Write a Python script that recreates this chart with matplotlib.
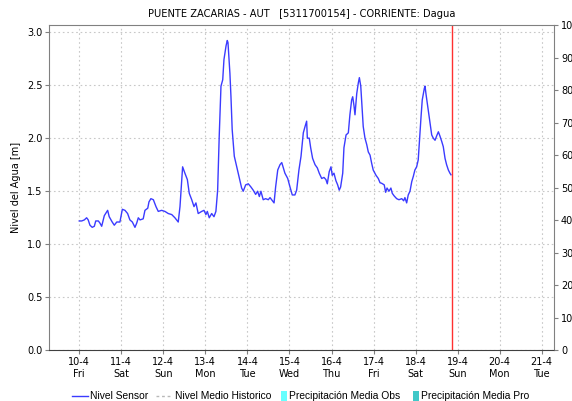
import matplotlib
matplotlib.use("Agg")
import matplotlib.pyplot as plt
from matplotlib.lines import Line2D
from matplotlib.patches import Rectangle

# hours since 10-4 00:00
hours = [0.0, 1.4, 2.9, 4.2, 5.1, 6.1, 7.4, 8.6, 9.4, 10.9, 11.8, 12.8, 14.3, 16.2, 17.1,
         18.1, 18.8, 20.0, 21.4, 23.2, 24.6, 26.1, 27.6, 28.9, 30.3, 31.8, 32.8, 33.7,
         34.7, 36.5, 37.5, 39.1, 39.8, 40.9, 42.3, 43.8, 45.1, 47.0, 48.9, 50.8, 52.8,
         54.6, 56.5, 57.5, 59.0, 60.3, 61.7, 62.8, 64.2, 65.5, 66.6, 67.9, 69.9, 71.2,
         72.3, 73.1, 74.2, 75.6, 76.9, 78.0, 79.0, 79.9, 80.9, 81.9, 82.6, 83.8, 84.5,
         84.9, 86.0, 86.6, 87.3, 88.5, 89.9, 91.2, 92.7, 93.6, 95.0, 96.5, 98.0, 99.3,
         100.7, 101.8, 102.8, 103.7, 105.0, 106.4, 107.9, 108.9, 109.8, 111.2, 112.1,
         113.3, 114.6, 115.6, 116.5, 117.4, 119.0, 120.3, 121.6, 123.1, 124.1, 125.4,
         126.6, 127.9, 128.9, 129.8, 130.2, 131.3, 132.1, 133.2, 134.6, 135.9, 137.0,
         138.4, 139.7, 140.8, 141.6, 142.7, 143.7, 144.4, 145.4, 146.5, 147.5, 148.4,
         149.2, 150.4, 151.1, 152.3, 153.6, 154.5, 155.5, 156.1, 156.8, 157.4, 158.4,
         159.3, 159.9, 160.7, 161.4, 162.1, 163.1, 164.1, 165.0, 166.0, 166.9, 167.8,
         169.4, 170.7, 171.7, 172.6, 174.1, 174.9, 175.7, 176.8, 177.9, 178.7, 179.8,
         181.2, 182.5, 184.1, 185.2, 185.9, 186.9, 187.8, 188.8, 189.8, 190.7, 191.6,
         192.6, 193.5, 194.1, 195.1, 195.8, 197.0, 197.4, 197.9, 198.9, 199.6, 200.4,
         201.2, 202.1, 203.1, 204.0, 205.0, 205.9, 206.9, 207.8, 208.8, 209.7, 210.7,
         211.6, 212.2]
nivel = [1.22, 1.22, 1.23, 1.25, 1.23, 1.18, 1.16, 1.17, 1.22, 1.22, 1.20, 1.17, 1.27,
         1.32, 1.26, 1.23, 1.21, 1.18, 1.21, 1.21, 1.33, 1.32, 1.29, 1.23, 1.21, 1.16,
         1.20, 1.25, 1.23, 1.24, 1.32, 1.34, 1.40, 1.43, 1.42, 1.355, 1.31, 1.32, 1.31,
         1.29, 1.28, 1.25, 1.21, 1.355, 1.73, 1.67, 1.61, 1.48, 1.42, 1.355, 1.39, 1.29,
         1.31, 1.32, 1.28, 1.31, 1.25, 1.29, 1.26, 1.31, 1.51, 2.02, 2.49, 2.55, 2.74,
         2.87, 2.92, 2.90, 2.61, 2.39, 2.08, 1.83, 1.73, 1.64, 1.53, 1.50, 1.56, 1.57,
         1.54, 1.51, 1.47, 1.50, 1.45, 1.50, 1.42, 1.43, 1.42, 1.44, 1.42, 1.39, 1.54,
         1.70, 1.75, 1.77, 1.72, 1.67, 1.62, 1.54, 1.465, 1.465, 1.51, 1.70, 1.83, 2.05,
         2.11, 2.16, 2.00, 2.00, 1.91, 1.81, 1.75, 1.72, 1.67, 1.62, 1.63, 1.61, 1.57,
         1.685, 1.73, 1.65, 1.67, 1.60, 1.56, 1.51, 1.54, 1.67, 1.91, 2.03, 2.05, 2.22,
         2.36, 2.39, 2.31, 2.22, 2.42, 2.52, 2.57, 2.49, 2.30, 2.11, 2.00, 1.94, 1.87,
         1.84, 1.765, 1.70, 1.65, 1.62, 1.58, 1.575, 1.56, 1.49, 1.53, 1.50, 1.53, 1.48,
         1.455, 1.43, 1.42, 1.43, 1.41, 1.44, 1.39, 1.465, 1.50, 1.59, 1.64, 1.70, 1.73,
         1.795, 1.95, 2.20, 2.36, 2.47, 2.49, 2.42, 2.30, 2.22, 2.125, 2.03, 2.00, 1.98,
         2.02, 2.06, 2.02, 1.97, 1.92, 1.81, 1.75, 1.70, 1.67, 1.655]

tick_hours = [0, 24, 48, 72, 96, 120, 144, 168, 192, 216, 240, 264]
tick_labels = ["10-4\nFri", "11-4\nSat", "12-4\nSun", "13-4\nMon", "14-4\nTue",
               "15-4\nWed", "16-4\nThu", "17-4\nFri", "18-4\nSat", "19-4\nSun",
               "20-4\nMon", "21-4\nTue"]
now_hour = 213.0
title = "PUENTE ZACARIAS - AUT   [5311700154] - CORRIENTE: Dagua"
legend_labels = ["Nivel Sensor", "Nivel Medio Historico", "Precipitación Media Obs",
                 "Precipitación Media Pro"]

W, H = 572, 401
fig = plt.figure(figsize=(W / 100, H / 100), dpi=100)
ax = fig.add_axes([0.0862, 0.126, 0.8823, 0.8117])
ax.plot(hours, nivel, color="#3b3bff", lw=1.0)
ax.axvline(now_hour, color="#ff3030", lw=1.0)

ax.set_xlim(-17.1, 271.0)
ax.set_ylim(0, 3.066)
ax.set_yticks([0, 0.5, 1.0, 1.5, 2.0, 2.5, 3.0])
ax.set_yticklabels(["0.0", "0.5", "1.0", "1.5", "2.0", "2.5", "3.0"])
ax.set_xticks(tick_hours)
ax.set_xticklabels(tick_labels)
ax.grid(True, color="#c8c8c8", linestyle=(0, (1.5, 2.5)), lw=0.8)
ax.tick_params(axis="both", labelsize=7, length=3, color="#808080", pad=2)
for s in ax.spines.values():
    s.set_color("#808080")
ax.spines["bottom"].set_linestyle((0, (1, 1)))
ax.spines["bottom"].set_color("#404040")
ax.set_ylabel("Nivel del Agua [m]", fontsize=7, labelpad=4)
ax.set_title(title, fontsize=7.1, pad=6)

ax2 = ax.twinx()
ax2.set_ylim(0, 100)
ax2.set_yticks(range(0, 101, 10))
ax2.tick_params(axis="y", labelsize=7, length=3, color="#808080", pad=2)
for s in ax2.spines.values():
    s.set_visible(False)

# legend drawn in figure pixel positions
def fx(px):
    return px / W

def fy(py):
    return 1 - py / H

ly = 396
lfont = dict(fontsize=7.4, family="Liberation Sans", va="center", ha="left")
fig.add_artist(Line2D([fx(72), fx(88)], [fy(ly), fy(ly)], color="#3b3bff", lw=1.0))
fig.text(fx(90), fy(ly), legend_labels[0], **lfont)
fig.add_artist(Line2D([fx(156), fx(172)], [fy(ly), fy(ly)], color="#b8b8b8", lw=1.0,
                      linestyle=(0, (2, 2))))
fig.text(fx(175), fy(ly), legend_labels[1], **lfont)
fig.add_artist(Rectangle((fx(281), fy(ly + 5)), fx(6), 10 / H, facecolor="#66ffff",
                         edgecolor="none", transform=fig.transFigure))
fig.text(fx(289), fy(ly), legend_labels[2], **lfont)
fig.add_artist(Rectangle((fx(413), fy(ly + 5)), fx(6), 10 / H, facecolor="#40c8c8",
                         edgecolor="none", transform=fig.transFigure))
fig.text(fx(421), fy(ly), legend_labels[3], **lfont)

fig.savefig("out.png", dpi=100)
